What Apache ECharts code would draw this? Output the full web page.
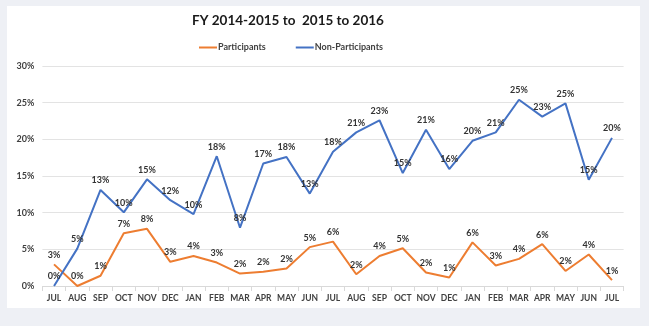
<!DOCTYPE html>
<html><head><meta charset="utf-8">
<script src="https://cdn.jsdelivr.net/npm/echarts@6/dist/echarts.min.js"></script>
<style>
html,body{margin:0;padding:0;background:#eef0f5;}
#panel{position:absolute;left:7px;top:6px;width:633px;height:302px;background:#ffffff;}
#chart{position:absolute;left:0;top:0;width:649px;height:326px;}
</style></head>
<body>
<div id="panel"></div>
<div id="chart"></div>
<script>
const months = ['JUL','AUG','SEP','OCT','NOV','DEC','JAN','FEB','MAR','APR','MAY','JUN','JUL','AUG','SEP','OCT','NOV','DEC','JAN','FEB','MAR','APR','MAY','JUN','JUL'];
const participants = [2.95,0,1.4,7.2,7.8,3.3,4.1,3.2,1.7,1.95,2.4,5.3,6.05,1.6,4.1,5.15,1.85,1.15,5.95,2.8,3.7,5.7,2.05,4.3,0.8];
const nonParticipants = [0,5.1,13.1,10.05,14.55,11.7,9.8,17.7,7.95,16.7,17.6,12.6,18.3,20.95,22.6,15.4,21.3,15.95,19.8,20.95,25.4,23.1,24.9,14.5,20.2];
const titleText = 'FY 2014-2015 to  2015 to 2016';

const chart = echarts.init(document.getElementById('chart'), null, {renderer:'canvas'});
const fontFam = 'Lato, "DejaVu Sans", sans-serif';
const labelCfg = {
  show: true, position: 'top', distance: 5,
  fontFamily: fontFam, fontWeight: 'bold', fontSize: 9, color: '#333333',
  formatter: p => Math.round(p.value) + '%'
};
chart.setOption({
  backgroundColor: 'transparent',
  animation: false,
  title: {
    text: titleText, left: 283, top: 9, textAlign: 'center',
    textStyle: {fontFamily: fontFam, fontWeight: 'bold', fontSize: 13.5, color: '#1a1a1a'}
  },
  legend: {
    top: 38, left: 194, itemGap: 30, itemWidth: 18, itemHeight: 2, icon: 'rect',
    textStyle: {fontFamily: fontFam, fontWeight: 'bold', fontSize: 9, color: '#404040', padding:[0,0,0,-4]},
    data: ['Participants','Non-Participants']
  },
  grid: {left: 42.4, right: 25.4, top: 66, bottom: 40},
  xAxis: {
    type: 'category', data: months, boundaryGap: true,
    axisLine: {lineStyle: {color: '#d9d9d9'}},
    axisTick: {show: true, length: 5, lineStyle: {color: '#d9d9d9'}},
    axisLabel: {fontFamily: fontFam, fontWeight: 'bold', fontSize: 8.5, color: '#404040', margin: 8, interval: 0}
  },
  yAxis: {
    type: 'value', min: 0, max: 30, interval: 5,
    axisLine: {show: false}, axisTick: {show: false},
    splitLine: {lineStyle: {color: '#e3e3e3'}},
    axisLabel: {fontFamily: fontFam, fontWeight: 'bold', fontSize: 9, color: '#404040', margin: 8, formatter: '{value}%'}
  },
  series: [
    {name: 'Participants', type: 'line', data: participants, symbol: 'circle', symbolSize: 0, showSymbol: true, color: '#ED7D31',
     lineStyle: {width: 2, color: '#ED7D31'}, label: labelCfg, labelLayout: {hideOverlap: false}},
    {name: 'Non-Participants', type: 'line', data: nonParticipants, symbol: 'circle', symbolSize: 0, showSymbol: true, color: '#4472C4',
     lineStyle: {width: 2, color: '#4472C4'}, label: labelCfg, labelLayout: {hideOverlap: false}}
  ]
});
</script>
</body></html>
